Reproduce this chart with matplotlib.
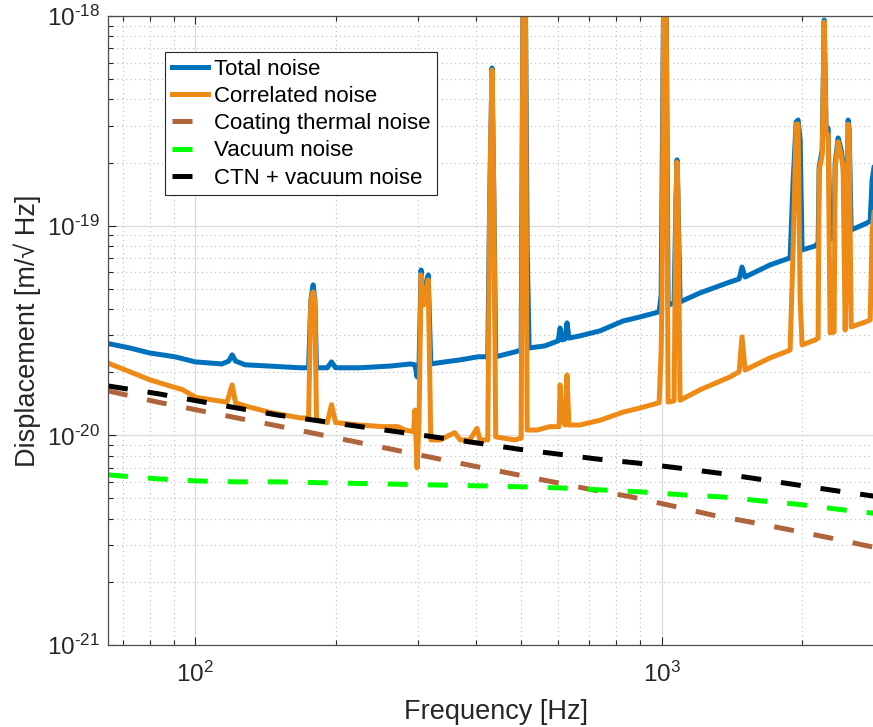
import math
import matplotlib
matplotlib.use('Agg')
import matplotlib.pyplot as plt
from matplotlib.ticker import LogLocator, FuncFormatter, NullFormatter

plt.rcParams['font.family'] = ['Liberation Sans', 'DejaVu Sans']
plt.rcParams['mathtext.fontset'] = 'custom'
plt.rcParams['mathtext.rm'] = 'Liberation Sans'
plt.rcParams['mathtext.it'] = 'Liberation Sans:italic'
plt.rcParams['mathtext.bf'] = 'Liberation Sans:bold'

# ---- data (Hz, m/sqrt(Hz)) ----
f_total = [64, 72.4, 79.9, 90.4, 100, 114, 118, 120, 122, 128, 144, 168, 175, 177, 179,
           180.5, 182, 192, 196, 200, 225, 262, 289, 296, 299, 302, 305, 309, 312, 316,
           320, 343, 370, 404, 424, 428, 433, 437, 441, 485, 500, 505, 510, 515, 520,
           562, 600, 606, 612, 621, 627, 633, 668, 738, 827, 899, 988, 998, 1002, 1012,
           1022, 1033, 1064, 1074, 1080, 1085, 1096, 1210, 1403, 1467, 1488, 1511, 1709,
           1887, 1915, 1944, 1963, 1983, 2002, 2135, 2167, 2178, 2211, 2233, 2254, 2277,
           2299, 2345, 2357, 2392, 2428, 2452, 2476, 2501, 2513, 2526, 2551, 2733, 2802,
           2829, 2872]
total_noise = [2.76e-20, 2.61e-20, 2.47e-20, 2.37e-20, 2.24e-20, 2.19e-20, 2.26e-20, 2.42e-20,
               2.26e-20, 2.17e-20, 2.14e-20, 2.10e-20, 2.10e-20, 4.42e-20, 5.22e-20, 4.42e-20,
               2.10e-20, 2.10e-20, 2.24e-20, 2.10e-20, 2.10e-20, 2.14e-20, 2.19e-20, 2.17e-20,
               1.90e-20, 2.19e-20, 6.15e-20, 4.42e-20, 4.93e-20, 5.82e-20, 2.19e-20, 2.24e-20,
               2.29e-20, 2.37e-20, 2.37e-20, 1.33e-19, 5.65e-19, 1.33e-19, 2.37e-20, 2.50e-20,
               2.55e-20, 2e-18, 2e-18, 7.91e-20, 2.61e-20, 2.67e-20, 2.82e-20, 3.25e-20,
               2.85e-20, 2.88e-20, 3.44e-20, 2.91e-20, 2.98e-20, 3.15e-20, 3.51e-20, 3.67e-20,
               3.88e-20, 4.67e-20, 1.28e-19, 2e-18, 2e-18, 4.18e-20, 4.28e-20, 1.33e-19,
               2.06e-19, 1.33e-19, 4.33e-20, 4.78e-20, 5.39e-20, 5.57e-20, 6.35e-20, 5.69e-20,
               6.50e-20, 7.02e-20, 1.62e-19, 3.12e-19, 3.19e-19, 2.56e-19, 7.66e-20, 8.00e-20,
               8.27e-20, 1.91e-19, 2.30e-19, 9.57e-19, 2.86e-19, 2.92e-19, 8.55e-20, 8.74e-20,
               1.99e-19, 2.62e-19, 2.30e-19, 1.99e-19, 9.03e-20, 1.33e-19, 3.19e-19, 2.86e-19,
               9.54e-20, 1.02e-19, 1.05e-19, 1.65e-19, 2.06e-19]

f_corr = [64, 72.4, 79.9, 88.2, 94.0, 100, 110, 117, 120, 122, 128, 144, 168, 175, 177,
          179, 180.5, 182, 192, 196, 200, 225, 253, 272, 282, 294, 296, 299, 302, 305,
          309, 312, 316, 320, 335, 360, 370, 388, 402, 408, 424, 428, 433, 437, 441,
          485, 500, 505, 510, 515, 541, 576, 603, 606, 612, 621, 627, 633, 668, 738,
          827, 899, 988, 998, 1002, 1012, 1022, 1033, 1064, 1074, 1080, 1085, 1096, 1210,
          1403, 1467, 1488, 1511, 1709, 1887, 1915, 1944, 1963, 1983, 2002, 2135, 2167,
          2178, 2211, 2233, 2254, 2277, 2299, 2345, 2357, 2392, 2428, 2452, 2476, 2501,
          2513, 2526, 2551, 2733, 2802, 2829, 2872]
correlated_noise = [2.24e-20, 2.01e-20, 1.84e-20, 1.72e-20, 1.65e-20, 1.52e-20, 1.47e-20,
                    1.44e-20, 1.74e-20, 1.43e-20, 1.38e-20, 1.29e-20, 1.21e-20, 1.21e-20,
                    4.42e-20, 4.83e-20, 4.42e-20, 1.18e-20, 1.15e-20, 1.40e-20, 1.15e-20,
                    1.12e-20, 1.10e-20, 1.10e-20, 1.06e-20, 1.04e-20, 1.32e-20, 6.99e-21,
                    1.18e-20, 5.82e-20, 4.18e-20, 4.67e-20, 5.51e-20, 9.51e-21, 9.51e-21,
                    1.03e-20, 9.51e-21, 9.51e-21, 1.08e-20, 9.51e-21, 9.51e-21, 1.33e-19,
                    5.53e-19, 1.33e-19, 9.83e-21, 9.51e-21, 9.72e-21, 2e-18, 2e-18, 1.06e-20,
                    1.06e-20, 1.10e-20, 1.10e-20, 1.74e-20, 1.18e-20, 1.12e-20, 1.94e-20,
                    1.12e-20, 1.12e-20, 1.18e-20, 1.29e-20, 1.35e-20, 1.43e-20, 2.47e-20,
                    4.42e-20, 2e-18, 2e-18, 1.44e-20, 1.46e-20, 1.33e-19, 2.01e-19, 1.33e-19,
                    1.47e-20, 1.65e-20, 1.90e-20, 2.01e-20, 2.95e-20, 2.05e-20, 2.34e-20,
                    2.55e-20, 7.66e-20, 3.05e-19, 3.05e-19, 4.42e-20, 2.70e-20, 2.85e-20,
                    2.91e-20, 1.84e-19, 2.17e-19, 9.36e-19, 2.71e-19, 2.71e-19, 3.08e-20,
                    3.11e-20, 1.88e-19, 2.51e-19, 2.17e-19, 1.88e-19, 3.18e-20, 7.66e-20,
                    3.05e-19, 2.71e-19, 3.29e-20, 3.47e-20, 3.55e-20, 9.23e-20, 1.33e-19]

f_ctn = [65, 83.1, 101, 123, 150, 394, 480, 584, 713, 864, 1053, 1283, 1549, 1888, 2301, 2762, 3000]
coating_thermal = [1.63e-20, 1.44e-20, 1.32e-20, 1.21e-20, 1.11e-20, 7.15e-21, 6.55e-21, 6.00e-21,
                   5.49e-21, 5.08e-21, 4.61e-21, 4.17e-21, 3.86e-21, 3.54e-21, 3.24e-21, 2.97e-21,
                   2.86e-21]

f_vac = [65, 83.1, 101, 123, 150, 412, 501, 611, 745, 908, 1112, 1355, 1651, 2013, 2453, 3000]
vacuum_noise = [6.48e-21, 6.20e-21, 6.06e-21, 6.00e-21, 6.00e-21, 5.74e-21, 5.68e-21, 5.61e-21,
                5.49e-21, 5.37e-21, 5.20e-21, 5.08e-21, 4.86e-21, 4.66e-21, 4.41e-21, 4.20e-21]

f_sum = [65, 83.1, 101, 123, 150, 402, 490, 597, 727, 886, 1080, 1315, 1603, 1954, 2382, 2832, 3000]
ctn_plus_vacuum = [1.72e-20, 1.58e-20, 1.46e-20, 1.35e-20, 1.25e-20, 9.20e-21, 8.61e-21, 8.15e-21,
                   7.71e-21, 7.38e-21, 7.00e-21, 6.62e-21, 6.20e-21, 5.80e-21, 5.43e-21, 5.14e-21,
                   5.05e-21]

# ---- figure ----
fig = plt.figure(figsize=(8.73, 7.27), dpi=100)
ax = fig.add_axes([108 / 873, 82 / 727, 776 / 873, 629 / 727])

lw = 3.6
ax.plot(f_total, total_noise, color='#0072BD', lw=lw, label='Total noise')
ax.plot(f_corr, correlated_noise, color='#ED8B16', lw=lw, label='Correlated noise')
ax.plot(f_ctn, coating_thermal, color='#B0643C', lw=lw, dashes=(4, 4),
        dash_capstyle='butt', label='Coating thermal noise')
ax.plot(f_vac, vacuum_noise, color='#00FF00', lw=lw, dashes=(4, 4),
        dash_capstyle='butt', label='Vacuum noise')
ax.plot(f_sum, ctn_plus_vacuum, color='black', lw=lw, dashes=(4, 4),
        dash_capstyle='butt', label='CTN + vacuum noise')

ax.set_xscale('log')
ax.set_yscale('log')
ax.set_xlim(65, 3000)
ax.set_ylim(1e-21, 1e-18)


def exp_label(v, pos):
    e = int(round(math.log10(v)))
    return r'$10^{\text{%d}}$' % e


ax.xaxis.set_major_locator(LogLocator(base=10, numticks=10))
ax.yaxis.set_major_locator(LogLocator(base=10, numticks=10))
ax.xaxis.set_minor_locator(LogLocator(base=10, subs=range(2, 10), numticks=20))
ax.yaxis.set_minor_locator(LogLocator(base=10, subs=range(2, 10), numticks=20))
ax.xaxis.set_major_formatter(FuncFormatter(exp_label))
ax.yaxis.set_major_formatter(FuncFormatter(exp_label))
ax.xaxis.set_minor_formatter(NullFormatter())
ax.yaxis.set_minor_formatter(NullFormatter())

ax.set_axisbelow(True)
ax.grid(True, which='major', color='#dcdcdc', lw=0.9, ls='-')
ax.grid(True, which='minor', color='#bdbdbd', lw=0.8, ls=(0, (1, 3)))

ax.tick_params(which='both', direction='in', top=True, right=True,
               colors='#262626', labelsize=17.5, width=0.8)
ax.tick_params(which='major', length=6)
ax.tick_params(which='minor', length=3.5)
ax.tick_params(axis='x', pad=12)
ax.tick_params(axis='y', pad=6)
for sp in ax.spines.values():
    sp.set_color('#4d4d4d')
    sp.set_linewidth(0.9)

ax.set_xlabel('Frequency [Hz]', fontsize=19.5, color='#262626', labelpad=9)
ax.set_ylabel('Displacement [m/√ Hz]', fontsize=19.5, color='#262626', labelpad=4)

leg = ax.legend(loc='upper left', bbox_to_anchor=(0.0735, 0.9428), borderaxespad=0,
                fontsize=16, handlelength=1.65, handletextpad=0.25, labelspacing=0.28,
                borderpad=0.3, fancybox=False, framealpha=1, edgecolor='#262626')
leg.get_frame().set_linewidth(0.8)

fig.savefig('out.png', dpi=100)
